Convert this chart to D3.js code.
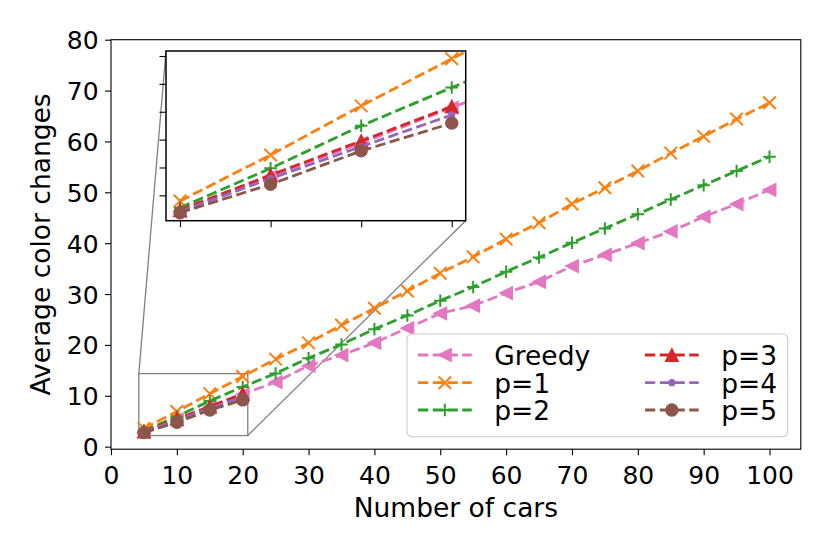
<!DOCTYPE html>
<html>
<head>
<meta charset="utf-8">
<script src="https://cdn.jsdelivr.net/npm/d3@7"></script>
<style>
    body { margin: 0; background: #fff; }
    text { font-family: "DejaVu Sans", sans-serif; fill: #000; }
</style>
</head>
<body>
<svg id="chart" width="830" height="554"></svg>
<script>
// data
let cars = [5, 10, 15, 20, 25, 30, 35, 40, 45, 50, 55, 60, 65, 70, 75, 80, 85, 90, 95, 100];
let carsSmall = [5, 10, 15, 20];
let greedy = [2.85, 5.35, 7.75, 10.3, 12.7, 15.9, 18.0, 20.4, 23.3, 26.2, 27.7, 30.2, 32.4, 35.5, 37.7, 40.0, 42.3, 45.2, 47.7, 50.5];
let p1 = [3.59, 6.9, 10.42, 13.8, 17.2, 20.4, 23.9, 27.2, 30.6, 34.1, 37.3, 40.8, 44.0, 47.7, 50.9, 54.2, 57.7, 61.0, 64.4, 67.6];
let p2 = [3.11, 5.94, 8.99, 11.74, 14.4, 17.4, 20.1, 23.1, 25.8, 28.7, 31.4, 34.4, 37.2, 40.1, 42.9, 45.7, 48.6, 51.4, 54.2, 57.0];
let p3 = [2.95, 5.46, 7.9, 10.37];
let p4 = [2.85, 5.2, 7.5, 9.77];
let p5 = [2.75, 4.79, 7.19, 9.18];
let xTicks = [0, 10, 20, 30, 40, 50, 60, 70, 80, 90, 100];
let yTicks = [0, 10, 20, 30, 40, 50, 60, 70, 80];
let insetXTicks = [5, 10, 15, 20];
let insetYTicks = [4, 6, 8, 10, 12, 14];

let series = [
    {name: "Greedy", xs: cars, ys: greedy, color: "#e377c2", marker: "<"},
    {name: "p=1", xs: cars, ys: p1, color: "#ff7f0e", marker: "x"},
    {name: "p=2", xs: cars, ys: p2, color: "#2ca02c", marker: "+"},
    {name: "p=3", xs: carsSmall, ys: p3, color: "#d62728", marker: "^"},
    {name: "p=4", xs: carsSmall, ys: p4, color: "#9467bd", marker: "."},
    {name: "p=5", xs: carsSmall, ys: p5, color: "#8c564b", marker: "o"},
];

let svg = d3.select("#chart");
const ms = 12.5;
const lw = 2.8;
const dash = "10.3,4.45";

// main axes
let x = d3.scaleLinear().domain([0, 104.75]).range([111, 800.8]);
let y = d3.scaleLinear().domain([-0.5, 80]).range([449.2, 39.7]);
// inset axes
let ix = d3.scaleLinear().domain([4.227, 20.77]).range([166, 465.7]);
let iy = d3.scaleLinear().domain([2.18, 14.36]).range([220.7, 51]);

function drawMarker(g, type, cx, cy, color) {
    let h = ms / 2;
    switch (type) {
        case "<":
            g.append("polygon")
                .attr("points", [[cx - h, cy], [cx + h, cy - h], [cx + h, cy + h]].join(" "))
                .attr("fill", color).attr("stroke", color).attr("stroke-width", 1.4);
            break;
        case "^":
            g.append("polygon")
                .attr("points", [[cx, cy - h], [cx - h, cy + h], [cx + h, cy + h]].join(" "))
                .attr("fill", color).attr("stroke", color).attr("stroke-width", 1.4);
            break;
        case "x":
            g.append("path")
                .attr("d", `M${cx - h},${cy - h}L${cx + h},${cy + h}M${cx - h},${cy + h}L${cx + h},${cy - h}`)
                .attr("stroke", color).attr("stroke-width", 2).attr("fill", "none");
            break;
        case "+":
            g.append("path")
                .attr("d", `M${cx - h},${cy}L${cx + h},${cy}M${cx},${cy - h}L${cx},${cy + h}`)
                .attr("stroke", color).attr("stroke-width", 2).attr("fill", "none");
            break;
        case "o":
            g.append("circle").attr("cx", cx).attr("cy", cy).attr("r", h - 0.3)
                .attr("fill", color).attr("stroke", color).attr("stroke-width", 1.4);
            break;
        case ".":
            g.append("circle").attr("cx", cx).attr("cy", cy).attr("r", h / 2 - 0.2)
                .attr("fill", color).attr("stroke", color).attr("stroke-width", 1.4);
            break;
    }
}

function drawSeries(g, sx, sy) {
    series.forEach(s => {
        let pts = s.xs.map((v, i) => [sx(v), sy(s.ys[i])]);
        g.append("path")
            .attr("d", d3.line()(pts))
            .attr("fill", "none")
            .attr("stroke", s.color)
            .attr("stroke-width", lw)
            .attr("stroke-dasharray", dash);
        pts.forEach(p => drawMarker(g, s.marker, p[0], p[1], s.color));
    });
}

let defs = svg.append("defs");
defs.append("clipPath").attr("id", "clipMain").append("rect")
    .attr("x", x.range()[0]).attr("y", y.range()[1])
    .attr("width", x.range()[1] - x.range()[0]).attr("height", y.range()[0] - y.range()[1]);
defs.append("clipPath").attr("id", "clipInset").append("rect")
    .attr("x", ix.range()[0]).attr("y", iy.range()[1])
    .attr("width", ix.range()[1] - ix.range()[0]).attr("height", iy.range()[0] - iy.range()[1]);

// zoom box and connectors (drawn under the lines)
let gray = "#808080";
let rx0 = x(ix.domain()[0]), rx1 = x(ix.domain()[1]);
let ry0 = y(iy.domain()[1]), ry1 = y(iy.domain()[0]);
svg.append("rect")
    .attr("x", rx0).attr("y", ry0).attr("width", rx1 - rx0).attr("height", ry1 - ry0)
    .attr("fill", "none").attr("stroke", gray).attr("stroke-width", 1.3);
svg.append("line")
    .attr("x1", rx0).attr("y1", ry0).attr("x2", ix.range()[0]).attr("y2", iy.range()[1])
    .attr("stroke", gray).attr("stroke-width", 1.3);
svg.append("line")
    .attr("x1", rx1).attr("y1", ry1).attr("x2", ix.range()[1]).attr("y2", iy.range()[0])
    .attr("stroke", gray).attr("stroke-width", 1.3);

drawSeries(svg.append("g").attr("clip-path", "url(#clipMain)"), x, y);

// main axes ticks
let xAxis = svg.append("g")
    .attr("transform", `translate(0,${y.range()[0]})`)
    .call(d3.axisBottom(x).tickValues(xTicks).tickSize(6).tickSizeOuter(0));
xAxis.select(".domain").remove();
xAxis.selectAll("line").attr("stroke", "#000").attr("stroke-width", 1.1);
xAxis.selectAll("text").attr("y", 35).attr("dy", null)
    .style("font-size", "25px").attr("fill", "#000");

let yAxis = svg.append("g")
    .attr("transform", `translate(${x.range()[0]},0)`)
    .call(d3.axisLeft(y).tickValues(yTicks).tickSize(6).tickPadding(6.4).tickSizeOuter(0));
yAxis.select(".domain").remove();
yAxis.selectAll("line").attr("stroke", "#000").attr("stroke-width", 1.1);
yAxis.selectAll("text").attr("dy", "0.36em").style("font-size", "25px").attr("fill", "#000");

svg.append("rect")
    .attr("x", x.range()[0]).attr("y", y.range()[1])
    .attr("width", x.range()[1] - x.range()[0]).attr("height", y.range()[0] - y.range()[1])
    .attr("fill", "none").attr("stroke", "#000").attr("stroke-width", 1.1);

svg.append("text")
    .attr("x", (x.range()[0] + x.range()[1]) / 2).attr("y", 517.3)
    .attr("text-anchor", "middle").style("font-size", "26.5px")
    .text("Number of cars");
svg.append("text")
    .attr("transform", `translate(50,${(y.range()[0] + y.range()[1]) / 2}) rotate(-90)`)
    .attr("text-anchor", "middle").style("font-size", "26.5px")
    .text("Average color changes");

// legend
let legend = svg.append("g");
legend.append("rect")
    .attr("x", 407).attr("y", 334).attr("width", 380.7).attr("height", 102.7).attr("rx", 5)
    .attr("fill", "#fff").attr("fill-opacity", 0.8)
    .attr("stroke", "#cccccc").attr("stroke-width", 1.1);
let rowY = [355, 382.7, 410];
let colX = [418, 645];
series.forEach((s, i) => {
    let c = Math.floor(i / 3), r = i % 3;
    let x0 = colX[c], x1 = colX[c] + 53.7, yy = rowY[r];
    legend.append("line")
        .attr("x1", x0).attr("x2", x1).attr("y1", yy).attr("y2", yy)
        .attr("stroke", s.color).attr("stroke-width", lw).attr("stroke-dasharray", dash);
    drawMarker(legend, s.marker, (x0 + x1) / 2, yy, s.color);
    legend.append("text")
        .attr("x", x1 + 22.5).attr("y", yy + 10)
        .style("font-size", "26.5px")
        .text(s.name);
});

// inset
svg.append("rect")
    .attr("x", ix.range()[0]).attr("y", iy.range()[1])
    .attr("width", ix.range()[1] - ix.range()[0]).attr("height", iy.range()[0] - iy.range()[1])
    .attr("fill", "#fff");
drawSeries(svg.append("g").attr("clip-path", "url(#clipInset)"), ix, iy);

let ixAxis = svg.append("g")
    .attr("transform", `translate(0,${iy.range()[0]})`)
    .call(d3.axisBottom(ix).tickValues(insetXTicks).tickSize(6.5).tickSizeOuter(0).tickFormat(""));
ixAxis.select(".domain").remove();
ixAxis.selectAll("line").attr("stroke", "#000").attr("stroke-width", 1.1);
let iyAxis = svg.append("g")
    .attr("transform", `translate(${ix.range()[0]},0)`)
    .call(d3.axisLeft(iy).tickValues(insetYTicks).tickSize(6.5).tickSizeOuter(0).tickFormat(""));
iyAxis.select(".domain").remove();
iyAxis.selectAll("line").attr("stroke", "#000").attr("stroke-width", 1.1);

svg.append("rect")
    .attr("x", ix.range()[0]).attr("y", iy.range()[1])
    .attr("width", ix.range()[1] - ix.range()[0]).attr("height", iy.range()[0] - iy.range()[1])
    .attr("fill", "none").attr("stroke", "#000").attr("stroke-width", 1.5);
</script>
</body>
</html>
